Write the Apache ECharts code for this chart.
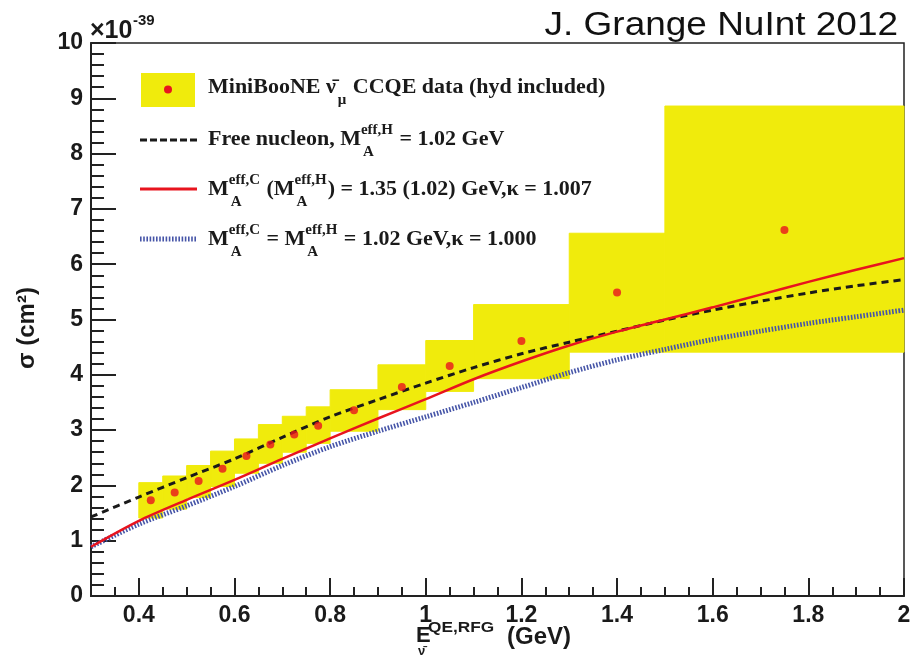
<!DOCTYPE html>
<html>
<head>
<meta charset="utf-8">
<script src="https://cdn.jsdelivr.net/npm/echarts@6/dist/echarts.min.js"></script>
<style>
  html, body { margin: 0; padding: 0; background: #fff; }
  #chart { width: 914px; height: 658px; }
</style>
</head>
<body>
<div id="chart"></div>
<script>
// MiniBooNE anti-numu CCQE data (bins, central values, error band), sigma in 1e-39 cm^2
const binLeft = [0.40, 0.45, 0.50, 0.55, 0.60, 0.65, 0.70, 0.75, 0.80, 0.90, 1.00, 1.10, 1.30, 1.50]
const binRight = [0.45, 0.50, 0.55, 0.60, 0.65, 0.70, 0.75, 0.80, 0.90, 1.00, 1.10, 1.30, 1.50, 2.00]
const binCenter = [0.425, 0.475, 0.525, 0.575, 0.625, 0.675, 0.725, 0.775, 0.85, 0.95, 1.05, 1.2, 1.4, 1.75]
const dataSigma = [1.73, 1.87, 2.08, 2.30, 2.53, 2.74, 2.92, 3.08, 3.36, 3.78, 4.16, 4.61, 5.49, 6.62]
const errHigh = [2.05, 2.17, 2.36, 2.62, 2.84, 3.10, 3.25, 3.42, 3.73, 4.18, 4.62, 5.27, 6.56, 8.86]
const errLow = [1.41, 1.57, 1.78, 1.98, 2.22, 2.40, 2.60, 2.76, 2.98, 3.37, 3.70, 3.93, 4.41, 4.41]

// model curves
const curveE = [0.3, 0.4, 0.5, 0.6, 0.7, 0.8, 0.9, 1.0, 1.1, 1.2, 1.3, 1.4, 1.5, 1.6, 1.7, 1.8, 1.9, 2.0]
const freeNucleon = [1.43, 1.79, 2.14, 2.48, 2.87, 3.24, 3.55, 3.85, 4.13, 4.38, 4.59, 4.79, 4.99, 5.17, 5.33, 5.48, 5.61, 5.72]
const carbon135 = [0.89, 1.36, 1.74, 2.10, 2.48, 2.85, 3.21, 3.56, 3.92, 4.24, 4.53, 4.78, 5.00, 5.22, 5.45, 5.68, 5.90, 6.11]
const carbon102 = [0.89, 1.30, 1.63, 1.98, 2.36, 2.70, 2.98, 3.24, 3.50, 3.77, 4.04, 4.27, 4.46, 4.64, 4.79, 4.93, 5.05, 5.17]

// axis ticks
const xMajorTicks = [0.4, 0.6, 0.8, 1.0, 1.2, 1.4, 1.6, 1.8, 2.0]
const xMinorTicks = [0.35, 0.45, 0.5, 0.55, 0.65, 0.7, 0.75, 0.85, 0.9, 0.95, 1.05, 1.1, 1.15,
  1.25, 1.3, 1.35, 1.45, 1.5, 1.55, 1.65, 1.7, 1.75, 1.85, 1.9, 1.95]

const YELLOW = '#f0eb0c'
const RED = '#e8141e'
const BLUE = '#4655a8'
const INK = '#1a1a1a'

const measureCtx = document.createElement('canvas').getContext('2d')
const textWidth = (str, size, family) => {
  measureCtx.font = `bold ${size}px ${family}`
  return measureCtx.measureText(str).width
}

const LEG_FAMILY = '"Liberation Serif"'
const LEG_SIZE = 22
const LEG_SMALL = 15

// legend text line made of plain pieces and stacked sup/sub pieces
const legendLine = (parts, x0, cy) => {
  const out = []
  let x = x0
  parts.forEach((p) => {
    if (typeof p === 'string') {
      out.push({
        type: 'text', x, y: cy,
        style: { text: p, fontSize: LEG_SIZE, fontFamily: LEG_FAMILY, fontWeight: 'bold', fill: INK, verticalAlign: 'middle' },
      })
      x += textWidth(p, LEG_SIZE, LEG_FAMILY)
    } else {
      let w = 0
      if (p.sup) {
        out.push({
          type: 'text', x, y: cy - 9,
          style: { text: p.sup, fontSize: LEG_SMALL, fontFamily: LEG_FAMILY, fontWeight: 'bold', fill: INK, verticalAlign: 'middle' },
        })
        w = Math.max(w, textWidth(p.sup, LEG_SMALL, LEG_FAMILY))
      }
      if (p.sub) {
        out.push({
          type: 'text', x: x + 2, y: cy + 13,
          style: { text: p.sub, fontSize: LEG_SMALL, fontFamily: LEG_FAMILY, fontWeight: 'bold', fill: INK, verticalAlign: 'middle' },
        })
        w = Math.max(w, textWidth(p.sub, LEG_SMALL, LEG_FAMILY) + 2)
      }
      x += w + 1
    }
  })
  return out
}

const legendX = 208
const legendText = [
  ...legendLine(['MiniBooNE ν̄', { sub: 'μ' }, ' CCQE data (hyd included)'], legendX, 87),
  ...legendLine(['Free nucleon, M', { sup: 'eff,H', sub: 'A' }, ' = 1.02 GeV'], legendX, 139),
  ...legendLine(['M', { sup: 'eff,C', sub: 'A' }, ' (M', { sup: 'eff,H', sub: 'A' }, ') = 1.35 (1.02) GeV,κ = 1.007'], legendX, 189),
  ...legendLine(['M', { sup: 'eff,C', sub: 'A' }, ' = M', { sup: 'eff,H', sub: 'A' }, ' = 1.02 GeV,κ = 1.000'], legendX, 239),
]

const legendSymbols = [
  { type: 'rect', shape: { x: 141, y: 73, width: 54, height: 34 }, style: { fill: YELLOW } },
  { type: 'circle', shape: { cx: 168, cy: 89.5, r: 4 }, style: { fill: RED } },
  { type: 'line', shape: { x1: 140, y1: 140, x2: 197, y2: 140 }, style: { stroke: INK, lineWidth: 3, lineDash: [7, 3] } },
  { type: 'line', shape: { x1: 140, y1: 189, x2: 197, y2: 189 }, style: { stroke: RED, lineWidth: 3 } },
  { type: 'line', shape: { x1: 140, y1: 239, x2: 196, y2: 239 }, style: { stroke: BLUE, lineWidth: 5, lineDash: [1.6, 1.6] } },
]

const sans = '"Liberation Sans"'

const titleGraphics = [
  {
    type: 'text', x: 898, y: 26, scaleX: 1.12,
    style: { text: 'J. Grange NuInt 2012', fontSize: 33, fontFamily: sans, fill: '#111', align: 'right', verticalAlign: 'middle' },
  },
  {
    type: 'text', x: 90, y: 31,
    style: { text: '×10', fontSize: 25, fontFamily: sans, fontWeight: 'bold', fill: INK, verticalAlign: 'middle' },
  },
  {
    type: 'text', x: 133, y: 21,
    style: { text: '-39', fontSize: 15, fontFamily: sans, fontWeight: 'bold', fill: INK, verticalAlign: 'middle' },
  },
  {
    type: 'text', x: 27, y: 328, rotation: Math.PI / 2,
    style: { text: 'σ (cm²)', fontSize: 24, fontFamily: sans, fontWeight: 'bold', fill: INK, align: 'center', verticalAlign: 'middle' },
  },
  {
    type: 'text', x: 416, y: 636,
    style: { text: 'E', fontSize: 22, fontFamily: sans, fontWeight: 'bold', fill: INK, verticalAlign: 'middle' },
  },
  {
    type: 'text', x: 428, y: 628, scaleX: 1.15,
    style: { text: 'QE,RFG', fontSize: 15, fontFamily: sans, fontWeight: 'bold', fill: INK, verticalAlign: 'middle' },
  },
  {
    type: 'text', x: 418, y: 651,
    style: { text: 'ν̄', fontSize: 13, fontFamily: sans, fontWeight: 'bold', fill: INK, verticalAlign: 'middle' },
  },
  {
    type: 'text', x: 507, y: 637,
    style: { text: '(GeV)', fontSize: 24, fontFamily: sans, fontWeight: 'bold', fill: INK, verticalAlign: 'middle' },
  },
]

const chart = echarts.init(document.getElementById('chart'))

const tickLabel = {
  fontFamily: sans,
  fontWeight: 'bold',
  fontSize: 23,
  color: INK,
}

chart.setOption({
  backgroundColor: '#fff',
  animation: false,
  grid: {
    left: 91,
    right: 10,
    top: 43,
    bottom: 62,
    show: true,
    borderColor: '#222',
    borderWidth: 1.5,
  },
  xAxis: [
    {
      type: 'value',
      min: 0.3,
      max: 2.0,
      axisLine: { lineStyle: { color: '#222', width: 2 } },
      axisTick: { inside: true, length: 18, lineStyle: { color: '#222', width: 2 }, customValues: xMajorTicks },
      axisLabel: { ...tickLabel, margin: 8, customValues: xMajorTicks, formatter: (v) => String(+v.toFixed(1)) },
      splitLine: { show: false },
    },
    {
      type: 'value',
      min: 0.3,
      max: 2.0,
      position: 'bottom',
      axisLine: { show: false },
      axisTick: { inside: true, length: 9, lineStyle: { color: '#222', width: 2 }, customValues: xMinorTicks },
      axisLabel: { show: false },
      splitLine: { show: false },
    },
  ],
  yAxis: {
    type: 'value',
    min: 0,
    max: 10,
    interval: 1,
    axisLine: { show: true, lineStyle: { color: '#222', width: 2 } },
    axisTick: { show: true, inside: true, length: 25, lineStyle: { color: '#222', width: 2 } },
    minorTick: { show: true, splitNumber: 5, length: 13, lineStyle: { color: '#222', width: 2 } },
    axisLabel: { ...tickLabel, margin: 8 },
    splitLine: { show: false },
  },
  graphic: [...legendSymbols, ...legendText, ...titleGraphics],
  series: [
    {
      name: 'error band',
      type: 'custom',
      z: 1,
      encode: { x: [0, 1], y: [2, 3] },
      data: binLeft.map((l, i) => [l, binRight[i], errLow[i], errHigh[i]]),
      renderItem: (params, api) => {
        const p0 = api.coord([api.value(0), api.value(3)])
        const p1 = api.coord([api.value(1), api.value(2)])
        return {
          type: 'rect',
          shape: { x: p0[0], y: p0[1], width: p1[0] - p0[0], height: p1[1] - p0[1] },
          style: { fill: YELLOW, stroke: YELLOW, lineWidth: 1 },
        }
      },
    },
    {
      name: 'free nucleon',
      type: 'line',
      z: 3,
      smooth: 0.3,
      showSymbol: false,
      data: curveE.map((e, i) => [e, freeNucleon[i]]),
      lineStyle: { color: INK, width: 3, type: [7, 5] },
    },
    {
      name: 'MA 1.35',
      type: 'line',
      z: 4,
      smooth: 0.3,
      showSymbol: false,
      data: curveE.map((e, i) => [e, carbon135[i]]),
      lineStyle: { color: RED, width: 2.5 },
    },
    {
      name: 'MA 1.02',
      type: 'line',
      z: 2,
      smooth: 0.3,
      showSymbol: false,
      data: curveE.map((e, i) => [e, carbon102[i]]),
      lineStyle: { color: BLUE, width: 5, type: [1.6, 1.6] },
    },
    {
      name: 'data',
      type: 'scatter',
      z: 5,
      symbolSize: 8,
      itemStyle: { color: RED },
      data: binCenter.map((e, i) => [e, dataSigma[i]]),
    },
  ],
})
</script>
</body>
</html>
